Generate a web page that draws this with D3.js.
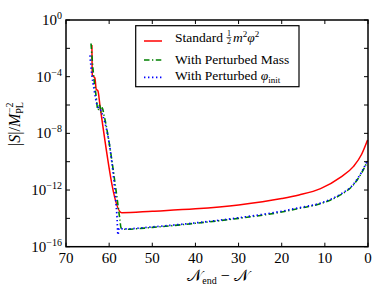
<!DOCTYPE html>
<html>
<head>
<meta charset="utf-8">
<script src="https://cdn.jsdelivr.net/npm/d3@7"></script>
<style>
  body { margin: 0; background: #fff; }
</style>
</head>
<body>
<svg id="chart" width="388" height="291"></svg>
<script>
// ---------- data ----------
const xTicks = [70, 60, 50, 40, 30, 20, 10, 0];
const yTickExps = [0, -4, -8, -12, -16];

// Standard 1/2 m^2 phi^2
const redN = [64.0, 63.9, 63.3, 63.0, 62.6, 62.1, 57.1, 50, 40, 30, 20, 16, 11, 6.4, 3.4, 1.5, 0.1];
const redS = [1.7e-2, 1.3e-4, 7.9e-5, 1.3e-5, 1.0e-5, 7.9e-7, 2.5e-14, 3.2e-14, 4.7e-14, 8.9e-14,
              2.5e-13, 4.5e-13, 1.26e-12, 7.9e-12, 4.5e-11, 3.2e-10, 3.4e-9];

// With perturbed mass
const greenN = [64.2, 63.7, 63.05, 62.6, 62.2, 61.9, 61.6, 61.2, 57.5, 57.25, 56.3, 50, 40, 30, 20, 16, 11, 6.4, 3.4, 1.5, 0.1];
const greenS = [2.2e-2, 2.5e-4, 5.0e-6, 4.5e-7, 1.0e-6, 3.2e-7, 6.3e-7, 2.0e-7, 7.9e-15, 2.1e-15, 1.7e-15,
                2.3e-15, 4.5e-15, 1.0e-14, 2.8e-14, 5.0e-14, 1.1e-13, 4.5e-13, 2.3e-12, 1.6e-11, 1.1e-10];

// With perturbed phi_init
const blueN = [64.45, 64.0, 63.5, 62.8, 61.9, 58.2, 57.95, 57.7, 56.55, 50, 40, 30, 20, 16, 11, 6.4, 3.4, 1.5, 0.1];
const blueS = [3.2e-3, 1.3e-4, 1.3e-5, 1.0e-6, 4.0e-7, 1.7e-14, 6.8e-16, 2.0e-15, 1.8e-15, 2.5e-15, 4.8e-15,
               1.1e-14, 3.2e-14, 5.6e-14, 1.2e-13, 5.0e-13, 2.5e-12, 1.8e-11, 1.3e-10];

// ---------- layout ----------
const FONT = '"Liberation Serif"';
const svg = d3.select("#chart");
const L = 66, T = 20, R = 368, B = 246.7;

const x = d3.scaleLinear().domain([70, 0]).range([L, R]);
const y = d3.scaleLog().domain([1e-16, 1]).range([B, T]);

const zip = (ns, ss) => ns.map((n, i) => ({ n, s: ss[i] }));
const line = d3.line().x(d => x(d.n)).y(d => y(d.s)).curve(d3.curveMonotoneX);

const series = [
  { data: zip(redN, redS), color: "#ff0000", dash: null, w: 1.5 },
  { data: zip(greenN, greenS), color: "#008000", dash: "5.5,2.5,1.3,2.5", w: 1.6 },
  { data: zip(blueN, blueS), color: "#0000ff", dash: "1.4,2.6", w: 1.7 }
];

const plot = svg.append("g");
plot.selectAll("path.series")
  .data(series)
  .join("path")
  .attr("class", "series")
  .attr("d", d => line(d.data))
  .attr("fill", "none")
  .attr("stroke", d => d.color)
  .attr("stroke-width", d => d.w)
  .attr("stroke-dasharray", d => d.dash);

// ---------- frame + ticks (inward, all four sides) ----------
const tk = 4;
const ax = svg.append("g").attr("stroke", "#000").attr("stroke-width", 1);
for (const v of xTicks) {
  ax.append("line").attr("x1", x(v)).attr("x2", x(v)).attr("y1", B).attr("y2", B - tk);
  ax.append("line").attr("x1", x(v)).attr("x2", x(v)).attr("y1", T).attr("y2", T + tk);
}
for (let e = 0; e >= -16; e -= 2) {
  const yy = y(Math.pow(10, e));
  ax.append("line").attr("x1", L).attr("x2", L + tk).attr("y1", yy).attr("y2", yy);
  ax.append("line").attr("x1", R).attr("x2", R - tk).attr("y1", yy).attr("y2", yy);
}
svg.append("rect")
  .attr("x", L).attr("y", T).attr("width", R - L).attr("height", B - T)
  .attr("fill", "none").attr("stroke", "#000").attr("stroke-width", 1.5);

// tick labels
svg.append("g").selectAll("text")
  .data(xTicks)
  .join("text")
  .attr("x", d => x(d)).attr("y", 262.5)
  .attr("text-anchor", "middle")
  .style("font-family", FONT)
  .style("font-size", "15px")
  .text(d => d);

const yl = svg.append("g").selectAll("text")
  .data(yTickExps)
  .join("text")
  .attr("x", 62).attr("y", d => y(Math.pow(10, d)) + 5)
  .attr("text-anchor", "end")
  .style("font-family", FONT)
  .style("font-size", "15px");
yl.append("tspan").text("10");
yl.append("tspan").attr("dy", -6).style("font-size", "10px")
  .text(d => d === 0 ? "0" : "\u2212" + (-d));

// axis titles
const xt = svg.append("text")
  .attr("x", 218).attr("y", 281)
  .attr("text-anchor", "middle")
  .style("font-family", FONT)
  .style("font-size", "16px");
xt.append("tspan").text("\ud835\udca9");
xt.append("tspan").style("font-size", "10px").attr("dy", 3).text("end");
xt.append("tspan").attr("dy", -3).text(" \u2212 ");
xt.append("tspan").text("\ud835\udca9");

const ytl = svg.append("text")
  .attr("transform", "translate(20,124) rotate(-90)")
  .attr("text-anchor", "middle")
  .style("font-family", FONT)
  .style("font-size", "16px");
ytl.append("tspan").text("|");
ytl.append("tspan").style("font-style", "italic").text("S");
ytl.append("tspan").text("|/");
ytl.append("tspan").style("font-style", "italic").text("M");
ytl.append("tspan").style("font-size", "10px").attr("dy", 3).text("PL");
ytl.append("tspan").style("font-size", "10px").attr("dx", -11).attr("dy", -10).text("\u22122");

// ---------- legend ----------
const lg = svg.append("g");
lg.append("rect")
  .attr("x", 135.7).attr("y", 25.7).attr("width", 163.3).attr("height", 61)
  .attr("fill", "#fff").attr("stroke", "#000").attr("stroke-width", 1.2);

const legendRows = [
  { s: series[0], ly: 41 },
  { s: series[1], ly: 60 },
  { s: series[2], ly: 77.3 }
];
legendRows.forEach(r => {
  lg.append("line")
    .attr("x1", 144).attr("x2", 162).attr("y1", r.ly).attr("y2", r.ly)
    .attr("stroke", r.s.color).attr("stroke-width", r.s.w)
    .attr("stroke-dasharray", r.s.dash);
});

const ltext = (px, py, size) => lg.append("text").attr("x", px).attr("y", py)
  .style("font-family", FONT).style("font-size", size + "px");

const t1 = ltext(175, 42, 13.5).text("Standard");
const sw = t1.node().getComputedTextLength();
const fx = 175 + sw + 6;
ltext(fx, 36, 8).attr("text-anchor", "middle").text("1");
lg.append("line").attr("x1", fx - 2.5).attr("x2", fx + 2.5).attr("y1", 37.5).attr("y2", 37.5)
  .attr("stroke", "#000").attr("stroke-width", 0.6);
ltext(fx, 44, 8).attr("text-anchor", "middle").text("2");
const t1b = ltext(fx + 4, 42, 13.5).style("font-style", "italic");
t1b.append("tspan").text("m");
t1b.append("tspan").style("font-size", "9px").attr("dy", -5).style("font-style", "normal").text("2");
t1b.append("tspan").attr("dy", 5).text("\u03c6");
t1b.append("tspan").style("font-size", "9px").attr("dy", -5).style("font-style", "normal").text("2");

ltext(175, 63.5, 13.5).text("With Perturbed Mass");

const t3 = ltext(175, 80, 13.5);
t3.append("tspan").text("With Perturbed ");
t3.append("tspan").style("font-style", "italic").text("\u03c6");
t3.append("tspan").style("font-size", "9px").attr("dy", 3).text("init");
</script>
</body>
</html>
